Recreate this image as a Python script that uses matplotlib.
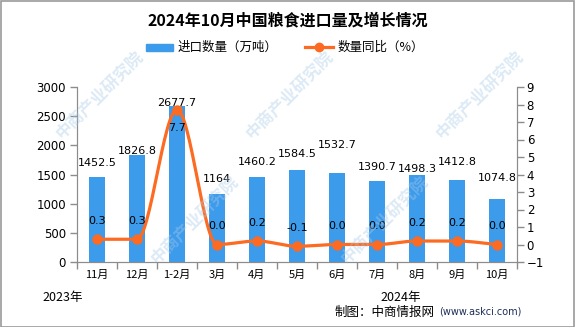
import numpy as np
import matplotlib
matplotlib.use("Agg")
import matplotlib.pyplot as plt
from matplotlib.patches import Rectangle
from matplotlib.lines import Line2D

plt.rcParams['font.family'] = ['Noto Sans CJK SC', 'DejaVu Sans']

# ---- data ----
months = ['11月', '12月', '1-2月', '3月', '4月', '5月', '6月', '7月', '8月', '9月', '10月']
import_volume = [1452.5, 1826.8, 2677.7, 1164, 1460.2, 1584.5, 1532.7, 1390.7, 1498.3, 1412.8, 1074.8]
yoy_growth = [0.3, 0.3, 7.7, 0.0, 0.2, -0.1, 0.0, 0.0, 0.2, 0.2, 0.0]
left_ticks = [0, 500, 1000, 1500, 2000, 2500, 3000]
right_ticks = [-1, 0, 1, 2, 3, 4, 5, 6, 7, 8, 9]

# label placement (points above the bar top / from the marker)
bar_label_dy = [10, 3, 2, 11, 11, 11, 20, 10, 4, 13, 15]
line_label_dy = [13, 13, -13, 13, 13, 13, 13, 13, 13, 13, 13]

BAR_COLOR = '#3d9bec'
LINE_COLOR = '#fd6a21'
AXIS_COLOR = '#8c8c8c'


def smooth_curve(xs, ys, n=30):
    """Monotone cubic (Fritsch-Carlson) curve through the points, no overshoot."""
    xs = np.asarray(xs, float)
    ys = np.asarray(ys, float)
    h = np.diff(xs)
    d = np.diff(ys) / h
    m = np.zeros_like(ys)
    m[0], m[-1] = d[0], d[-1]
    for i in range(1, len(ys) - 1):
        if d[i - 1] * d[i] <= 0:
            m[i] = 0.0
        else:
            w1 = 2 * h[i] + h[i - 1]
            w2 = h[i] + 2 * h[i - 1]
            m[i] = (w1 + w2) / (w1 / d[i - 1] + w2 / d[i])
    out_x, out_y = [], []
    t = np.linspace(0, 1, n)
    for i in range(len(xs) - 1):
        h00 = 2 * t ** 3 - 3 * t ** 2 + 1
        h10 = t ** 3 - 2 * t ** 2 + t
        h01 = -2 * t ** 3 + 3 * t ** 2
        h11 = t ** 3 - t ** 2
        out_x.extend(xs[i] + t * h[i])
        out_y.extend(h00 * ys[i] + h10 * h[i] * m[i] + h01 * ys[i + 1] + h11 * h[i] * m[i + 1])
    return np.array(out_x), np.array(out_y)


fig = plt.figure(figsize=(5.75, 3.27), dpi=100)
fig.patch.set_facecolor('white')

ax = fig.add_axes([77 / 575, 1 - 262 / 327, 440 / 575, 175 / 327])
ax2 = ax.twinx()

x = np.arange(len(months))
ax.bar(x, import_volume, width=0.4, color=BAR_COLOR, zorder=2)

ax.set_xlim(-0.5, len(months) - 0.5)
ax.set_ylim(0, 3000)
ax.set_yticks(left_ticks)
ax.set_yticklabels([str(v) for v in left_ticks], fontsize=8.5, family='DejaVu Sans')
ax.set_xticks(x)
ax.set_xticklabels(months, fontsize=8)
ax.set_xticks(np.arange(-0.5, len(months), 1.0), minor=True)
ax.tick_params(axis='x', which='major', length=0, pad=6)
ax.tick_params(axis='x', which='minor', length=5, color=AXIS_COLOR, width=1)
ax.tick_params(axis='y', length=5, color=AXIS_COLOR, width=1, pad=3)

ax.spines['top'].set_visible(False)
ax2.spines['top'].set_visible(False)
for sp in ('left', 'bottom', 'right'):
    ax.spines[sp].set_color(AXIS_COLOR)
    ax2.spines[sp].set_color(AXIS_COLOR)

for xi, v, dy in zip(x, import_volume, bar_label_dy):
    ax.annotate(f'{v:g}', (xi, v), xytext=(0, dy), textcoords='offset points',
                ha='center', va='center', fontsize=8, family='DejaVu Sans', zorder=5)

ax2.set_ylim(-1, 9)
ax2.set_yticks(right_ticks)
ax2.set_yticklabels([str(v).replace('-', '−') for v in right_ticks], fontsize=8.5,
                    family='DejaVu Sans')
ax2.tick_params(axis='y', length=5, color=AXIS_COLOR, width=1, pad=2)

sx, sy = smooth_curve(x, yoy_growth)
ax2.plot(sx, sy, color=LINE_COLOR, lw=2.3, zorder=3, solid_capstyle='round')
ax2.plot(x, yoy_growth, 'o', color=LINE_COLOR, markersize=6.5, zorder=4)
for xi, v, dy in zip(x, yoy_growth, line_label_dy):
    ax2.annotate(f'{v:.1f}', (xi, v), xytext=(0, dy), textcoords='offset points',
                 ha='center', va='center', fontsize=8, family='DejaVu Sans', zorder=5)

# title and legend
fig.text(0.5, 1 - 20 / 327, '2024年10月中国粮食进口量及增长情况', ha='center', va='center',
         fontsize=11.5, fontweight='bold')
fig.patches.append(Rectangle((146 / 575, 1 - 51 / 327), 27 / 575, 7 / 327,
                             transform=fig.transFigure, color=BAR_COLOR))
fig.text(178 / 575, 1 - 47 / 327, '进口数量（万吨）', ha='left', va='center', fontsize=9)
fig.lines.append(Line2D([305 / 575, 333 / 575], [1 - 47 / 327] * 2, transform=fig.transFigure,
                        color=LINE_COLOR, lw=2.3))
fig.lines.append(Line2D([319 / 575], [1 - 47 / 327], transform=fig.transFigure,
                        color=LINE_COLOR, marker='o', markersize=6))
fig.text(338 / 575, 1 - 47 / 327, '数量同比（%）', ha='left', va='center', fontsize=9)

# year markers and source
fig.text(42 / 575, 1 - 297 / 327, '2023年', ha='left', va='center', fontsize=9)
fig.text(380 / 575, 1 - 297 / 327, '2024年', ha='left', va='center', fontsize=9)
fig.text(335 / 575, 1 - 312 / 327, '制图：中商情报网', ha='left', va='center', fontsize=9)
fig.text(439 / 575, 1 - 312 / 327, '(www.askci.com)', ha='left', va='center', fontsize=7,
         color='#1f2f5a', family='DejaVu Sans')

# watermark
wm_color = '#a9cbe8'
for cx, cy in [(100, 95), (290, 95), (480, 95), (195, 220), (385, 220)]:
    fig.text(cx / 575, 1 - cy / 327, '中商产业研究院', rotation=45, ha='center', va='center',
             fontsize=12, color=wm_color, alpha=0.4, zorder=10, fontweight='bold')

# outer frame
fig.patches.append(Rectangle((0.5 / 575, 0.5 / 327), 1 - 1.5 / 575, 1 - 1.5 / 327,
                             transform=fig.transFigure, fill=False, edgecolor='#9a9a9a', lw=1.2))

fig.savefig('out.png', dpi=100)
